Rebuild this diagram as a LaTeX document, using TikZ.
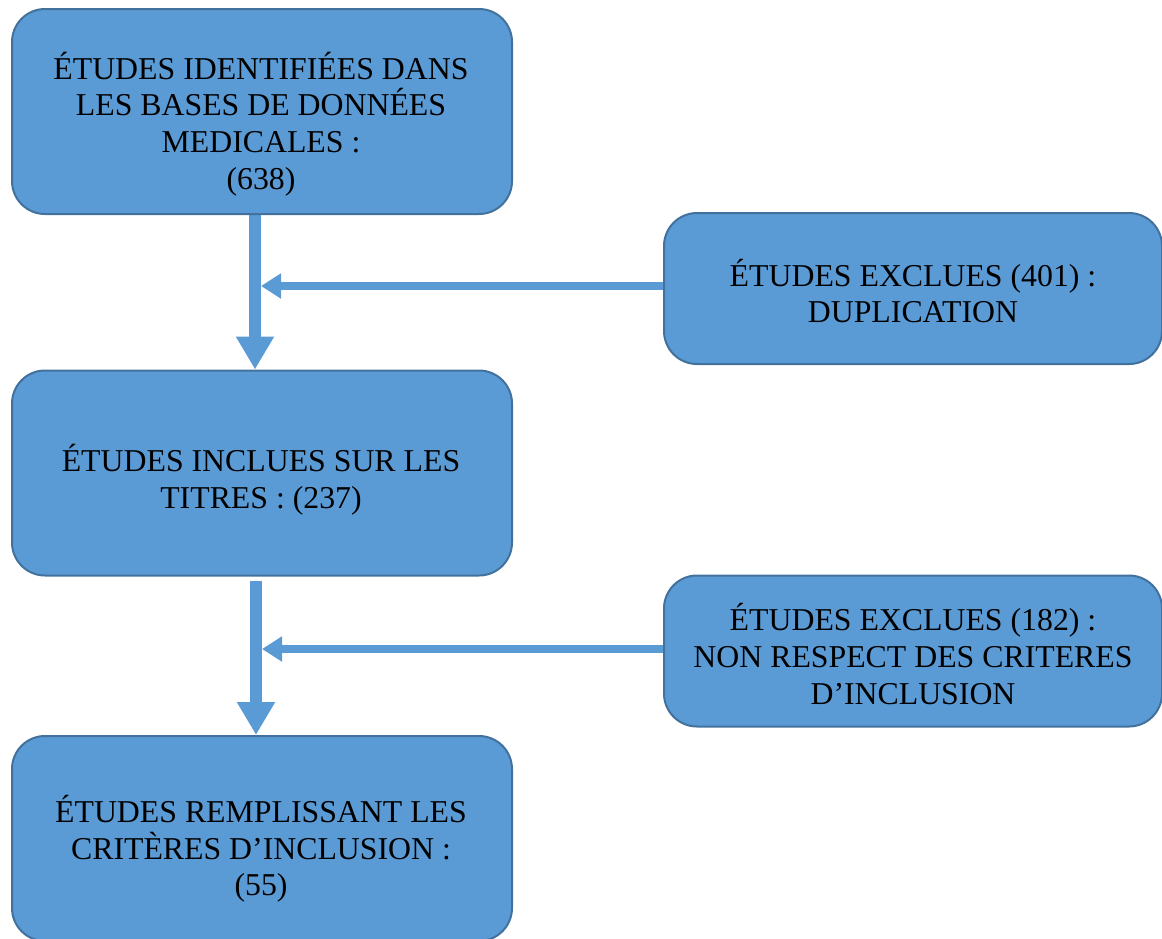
\documentclass[tikz,border=0pt]{standalone}
\usepackage{fontspec}
\setmainfont{Liberation Serif}
\usetikzlibrary{arrows.meta,calc}
\definecolor{boxfill}{HTML}{5B9BD5}
\definecolor{boxline}{HTML}{41719C}
\pgfdeclarelayer{background}
\pgfsetlayers{background,main}
\begin{document}
\begin{tikzpicture}[x=1pt,y=-1pt,
  box/.style={draw=boxline,line width=2pt,fill=boxfill,rounded corners=33pt,inner sep=0pt},
  bigbox/.style={box,minimum width=500pt,minimum height=205pt},
  sidebox/.style={box,minimum width=498pt,minimum height=151pt},
  txt/.style={align=center,font=\fontsize{31.8}{36.6}\selectfont,inner sep=0pt},
  vflow/.style={draw=boxfill,line width=12pt,-{Triangle[width=36pt,length=33pt]}},
  hflow/.style={draw=boxfill,line width=8pt,-{Triangle[width=24pt,length=20pt]}}]
\useasboundingbox (0,0) rectangle (1162,938);
% boxes
\node[bigbox] (b1) at (262,111.5) {};
\node[sidebox] (b2) at (913,288.5) {};
\node[bigbox] (b3) at (262,473) {};
\node[sidebox] (b4) at (913,651) {};
\node[bigbox] (b5) at (262,838.5) {};
% texts
\node[txt] (t1) at (261,124) {ÉTUDES IDENTIFIÉES DANS\\LES BASES DE DONNÉES\\MEDICALES :\\(638)};
\node[txt] (t2) at (913,291) {ÉTUDES EXCLUES (401) :\\DUPLICATION};
\node[txt] (t3) at (261,480) {ÉTUDES INCLUES SUR LES\\TITRES : (237)};
\node[txt] (t4) at (913,654) {ÉTUDES EXCLUES (182) :\\NON RESPECT DES CRITERES\\D’INCLUSION};
\node[txt] (t5) at (261,849) {ÉTUDES REMPLISSANT LES\\CRITÈRES D’INCLUSION :\\(55)};
% connectors
\coordinate (v1) at (255,0);
\coordinate (v2) at (256,0);
\coordinate (h1) at (261,286);
\coordinate (h2) at (262,649);
\begin{pgfonlayer}{background}
\draw[vflow] (v1 |- b1.south) -- (v1 |- b3.north);
\draw[hflow] (h1 -| b2.west) -- (h1);
\draw[vflow] ($(v2 |- b3.south)+(0,4)$) -- (v2 |- b5.north);
\draw[hflow] (h2 -| b4.west) -- (h2);
\end{pgfonlayer}
\end{tikzpicture}
\end{document}
